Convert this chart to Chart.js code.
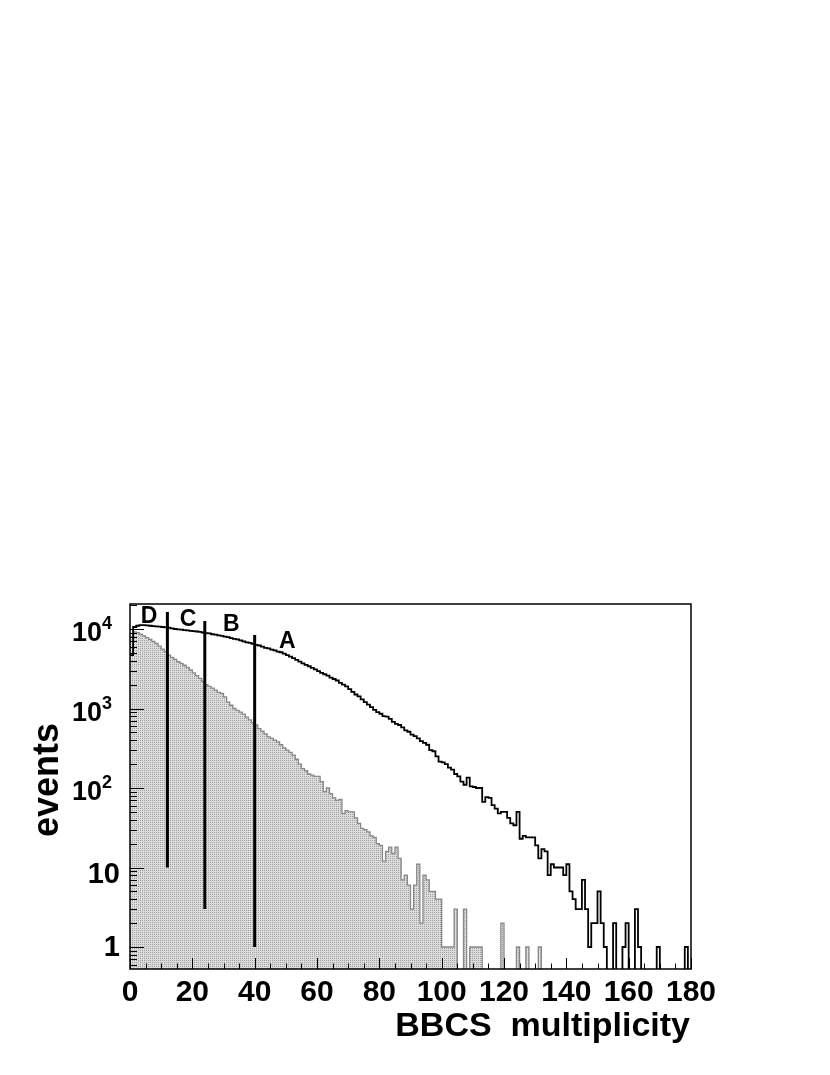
<!DOCTYPE html>
<html><head><meta charset="utf-8">
<script src="https://cdn.jsdelivr.net/npm/chart.js@4.4.1/dist/chart.umd.min.js"></script>
<style>html,body{margin:0;padding:0;background:#fff}#wrap{width:830px;height:1075px;position:relative}</style>
</head><body><div id="wrap"><canvas id="c"></canvas></div>
<script>
// BBCS multiplicity, bins of width 1 starting at 0
const allCounts = [
 4700,10600,11000,11200,11200,11100,11000,10900,10800,10700,
 10600,10500,10400,10200,10000,9900,9800,9700,9600,9500,
 9400,9300,9200,9000,8900,8800,8600,8500,8300,8200,
 8000,7900,7700,7500,7400,7200,7000,6800,6700,6500,
 6300,6200,6000,5800,5700,5500,5400,5200,5100,4900,
 4700,4500,4300,4100,3900,3700,3550,3400,3250,3100,
 2950,2800,2700,2600,2450,2350,2250,2100,2000,1900,
 1750,1620,1500,1420,1300,1200,1120,1040,960,900,
 860,800,790,740,680,640,620,580,530,510,
 470,450,420,390,370,350,300,290,250,215,
 210,200,180,170,150,140,120,110,135,105,
 103,100,100,67,77,75,61,55,48,50,
 50,42,36,34,50,23,25,24,24,24,
 19,13,17,16,8,11,10,10,10,8,
 11,5,4,3,3,7,3,1,2,2,
 5,2,1,0,0,2,0,0,1,2,
 0,0,3,1,0,0,0,0,0,1,
 0,0,0,0,0,0,0,0,1,0
];
const selCounts = [
 8000,9200,9000,8600,8200,7800,7400,7000,6600,6100,
 5600,5200,4700,4400,4150,3900,3700,3500,3300,3050,
 2800,2600,2400,2200,2000,1900,1800,1700,1600,1550,
 1400,1200,1100,1000,950,900,850,780,720,660,
 620,560,520,480,440,420,400,380,350,320,
 300,280,260,230,200,175,165,150,145,140,
 140,120,90,100,85,75,70,72,48,52,
 50,50,42,36,31,30,28,25,24,20,
 19,12,16,18,15,18,13,7,8,6,
 3,6,11,2,8,7,5,5,4,4,
 1,1,1,1,3,0,0,3,0,1,
 1,1,1,0,0,0,0,0,0,2,
 0,0,0,0,1,0,0,1,0,0,
 0,1,0,0,0,0,0,0,0,0,
 0,0,0,0,0,0,0,0,0,0,
 0,0,0,0,0,0,0,0,0,0,
 0,0,0,0,0,0,0,0,0,0,
 0,0,0,0,0,0,0,0,0,0
];
const xTickValues = [0,20,40,60,80,100,120,140,160,180];
const xTickLabels = ['0','20','40','60','80','100','120','140','160','180'];
const yTickValues = [1,10,100,1000,10000];
const yTickBase = ['1','10','10','10','10'];
const yTickExp = ['','','2','3','4'];
const classEdges = [12,24,40];
const classLineTop = [16400,12600,8400];
const classLineBottom = [10,3,1];
const classNames = ['D','C','B','A'];
const classNameX = [6.1,18.6,32.5,50.5];
const classNameY = [14200,13000,11200,7000];

const X_MIN = 0, X_MAX = 180, Y_MIN = 0.529, Y_MAX = 20640;
const FONT = '"Liberation Sans", Arial, Helvetica, sans-serif';

function histPoints(counts){
  const floor = Y_MIN/10;
  const pts = counts.map((c,i)=>({x:i, y: c>0 ? c : floor}));
  pts.push({x:counts.length, y:floor});
  return pts;
}
function makePattern(){
  const c = document.createElement('canvas'); c.width = 2; c.height = 2;
  const g = c.getContext('2d');
  g.fillStyle = '#dcdcdc'; g.fillRect(0,0,2,2);
  g.fillStyle = '#a0a0a0'; g.fillRect(0,0,1,1);
  return g.createPattern(c,'repeat');
}

const datasets = [
  {data: histPoints(selCounts), stepped:'before', borderColor:'#888', borderWidth:1.3,
   backgroundColor: makePattern(), fill:'start', pointRadius:0, order:3},
  {data: histPoints(allCounts), stepped:'before', borderColor:'#000', borderWidth:1.8,
   fill:false, pointRadius:0, order:2}
];
classEdges.forEach((e,i)=>{
  datasets.push({data:[{x:e,y:classLineBottom[i]},{x:e,y:classLineTop[i]}],
    borderColor:'#000', borderWidth:3, pointRadius:0, fill:false, order:1});
});

const decor = {
  id:'decor',
  afterDatasetsDraw(chart){
    const ctx = chart.ctx, a = chart.chartArea, xs = chart.scales.x, ys = chart.scales.y;
    ctx.save();
    ctx.strokeStyle = '#000'; ctx.lineWidth = 1;
    for (let v = X_MIN; v <= X_MAX; v += 5){
      const px = Math.round(xs.getPixelForValue(v)) + 0.5;
      const len = v % 20 === 0 ? 11 : 5.5;
      ctx.beginPath(); ctx.moveTo(px, a.bottom); ctx.lineTo(px, a.bottom - len); ctx.stroke();
    }
    for (let d = -1; d <= 4; d++){
      for (let m = 1; m <= 9; m++){
        const v = m * Math.pow(10, d);
        if (v < Y_MIN || v > Y_MAX) continue;
        const py = Math.round(ys.getPixelForValue(v)) + 0.5;
        const len = m === 1 ? 14 : 7;
        ctx.beginPath(); ctx.moveTo(a.left, py); ctx.lineTo(a.left + len, py); ctx.stroke();
      }
    }
    ctx.lineWidth = 1.5;
    ctx.strokeRect(a.left, a.top, a.right - a.left, a.bottom - a.top);
    ctx.fillStyle = '#000';
    ctx.font = 'bold 30px ' + FONT;
    ctx.textAlign = 'center'; ctx.textBaseline = 'alphabetic';
    xTickValues.forEach((v,i)=>{
      ctx.fillText(xTickLabels[i], xs.getPixelForValue(v), a.bottom + 32);
    });
    yTickValues.forEach((v,i)=>{
      const py = ys.getPixelForValue(v);
      if (yTickExp[i]){
        ctx.font = 'bold 27px ' + FONT; ctx.textAlign = 'right';
        ctx.fillText(yTickBase[i], 102, py + 12);
        ctx.font = 'bold 18px ' + FONT; ctx.textAlign = 'left';
        ctx.fillText(yTickExp[i], 102, py);
      } else {
        ctx.font = 'bold 29px ' + FONT; ctx.textAlign = 'right';
        ctx.fillText(yTickBase[i], 120, py + (v === 10 ? 15 : 9));
      }
    });
    ctx.font = 'bold 23px ' + FONT; ctx.textAlign = 'center'; ctx.textBaseline = 'middle';
    classNames.forEach((n,i)=>{
      ctx.fillText(n, xs.getPixelForValue(classNameX[i]), ys.getPixelForValue(classNameY[i]));
    });
    ctx.textBaseline = 'alphabetic';
    ctx.font = 'bold 34px ' + FONT; ctx.textAlign = 'right';
    ctx.fillText('BBCS  multiplicity', a.right - 1, 1036);
    ctx.save();
    ctx.translate(58, 780); ctx.rotate(-Math.PI/2);
    ctx.font = 'bold 36px ' + FONT; ctx.textAlign = 'center';
    ctx.fillText('events', 0, 0);
    ctx.restore();
    ctx.restore();
  }
};

new Chart(document.getElementById('c'), {
  type:'line',
  data:{datasets},
  options:{
    responsive:true, maintainAspectRatio:false, animation:false,
    layout:{padding:{left:130, right:139, top:604, bottom:106}},
    plugins:{legend:{display:false}, tooltip:{enabled:false}},
    scales:{
      x:{type:'linear', min:X_MIN, max:X_MAX, display:false},
      y:{type:'logarithmic', min:Y_MIN, max:Y_MAX, display:false}
    }
  },
  plugins:[decor]
});
</script></body></html>
